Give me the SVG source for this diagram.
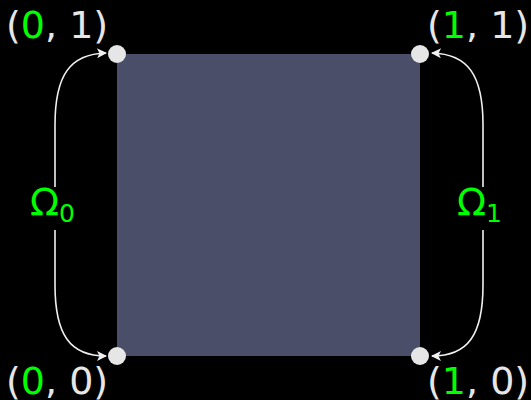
<svg xmlns="http://www.w3.org/2000/svg" width="531" height="400" viewBox="0 0 531 400">
<style>
.lbl{font-family:"DejaVu Sans",sans-serif;font-size:38px;fill:#e6e6e6}
.g{fill:#00ff00}
.om{font-family:"DejaVu Sans",sans-serif;font-size:38px;fill:#00ff00}
.c{fill:none;stroke:#f0f0f0;stroke-width:1.6}
.dot{fill:#e6e6e6}
</style>
<defs>
<marker id="ah" viewBox="0 0 10 10" refX="9" refY="5" markerWidth="12" markerHeight="10" markerUnits="userSpaceOnUse" orient="auto">
<path d="M0,0 L10,5 L0,10 L2.5,5 Z" fill="#f0f0f0"/>
</marker>
</defs>
<rect width="531" height="400" fill="#000"/>
<g id="square"><rect x="117" y="54" width="303" height="302" fill="#4a4e69"/></g>
<g id="connectors">
<path class="c" d="M55,187 L55,125 C55,75 70,54 106,53" marker-end="url(#ah)"/>
<path class="c" d="M55,230 L55,285 C55,335 70,356 106,356" marker-end="url(#ah)"/>
<path class="c" d="M483,187 L483,125 C483,75 468,54 432,53" marker-end="url(#ah)"/>
<path class="c" d="M483,230 L483,285 C483,335 468,356 432,356" marker-end="url(#ah)"/>
</g>
<g id="p01"><circle class="dot" cx="117" cy="54" r="9"/><text class="lbl" x="6" y="38">(<tspan class="g">0</tspan>, 1)</text></g>
<g id="p11"><circle class="dot" cx="420" cy="54" r="9"/><text class="lbl" x="427" y="38">(<tspan class="g">1</tspan>, 1)</text></g>
<g id="p00"><circle class="dot" cx="117" cy="356" r="9"/><text class="lbl" x="6" y="394">(<tspan class="g">0</tspan>, 0)</text></g>
<g id="p10"><circle class="dot" cx="420" cy="356" r="9"/><text class="lbl" x="427" y="394">(<tspan class="g">1</tspan>, 0)</text></g>
<g id="omega0"><text class="om" x="30" y="215">Ω<tspan font-size="25" dy="7">0</tspan></text></g>
<g id="omega1"><text class="om" x="457" y="215">Ω<tspan font-size="25" dy="7">1</tspan></text></g>
</svg>
